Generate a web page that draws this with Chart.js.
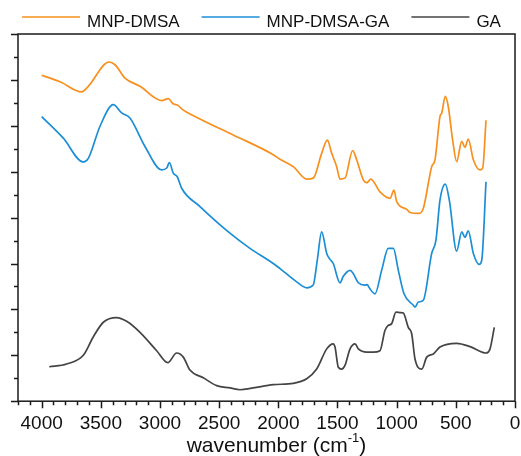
<!DOCTYPE html>
<html>
<head>
<meta charset="utf-8">
<script src="https://cdn.jsdelivr.net/npm/chart.js@4.4.1/dist/chart.umd.min.js"></script>
<style>
  html, body { margin: 0; padding: 0; background: #fff; }
  #wrap { width: 521px; height: 456px; }
</style>
</head>
<body>
<div id="wrap"><canvas id="ftirChart"></canvas></div>
<script>
// FTIR spectra: wavenumber (cm-1) and offset transmittance for each sample
const dmsaWave = [4000, 3845, 3662, 3606, 3431, 3380, 3296, 3169, 2986, 2930, 2888, 2845, 2817, 2662, 2381, 2043, 1986, 1874, 1760, 1705, 1634, 1586, 1549, 1507, 1479, 1437, 1372, 1338, 1282, 1253, 1219, 1141, 1056, 1023, 1000, 915, 887, 817, 775, 704, 676, 634, 619, 589, 564, 527, 493, 450, 423, 395, 352, 296, 273, 245];
const dmsaVal = [7.10, 6.96, 6.74, 6.86, 7.39, 7.33, 7.04, 6.86, 6.55, 6.59, 6.48, 6.44, 6.37, 6.15, 5.80, 5.37, 5.27, 5.11, 4.84, 4.86, 5.40, 5.69, 5.40, 5.11, 4.84, 4.86, 5.46, 5.26, 4.82, 4.76, 4.84, 4.56, 4.42, 4.60, 4.35, 4.18, 4.11, 4.09, 4.20, 5.11, 5.26, 6.20, 6.28, 6.64, 6.42, 5.69, 5.22, 5.66, 5.53, 5.71, 5.26, 5.04, 5.08, 6.12];

const dmsaGaWave = [4000, 3817, 3648, 3606, 3507, 3395, 3324, 3254, 3127, 2986, 2943, 2921, 2888, 2854, 2817, 2662, 2409, 2240, 2043, 1986, 1845, 1760, 1705, 1671, 1634, 1591, 1563, 1536, 1479, 1451, 1394, 1367, 1324, 1268, 1248, 1234, 1183, 1127, 1071, 1028, 986, 938, 859, 845, 817, 775, 704, 668, 634, 589, 555, 493, 450, 423, 395, 352, 302, 281, 245];
const dmsaGaVal = [6.20, 5.73, 5.21, 5.29, 5.99, 6.46, 6.28, 6.17, 5.55, 5.04, 5.08, 5.20, 4.97, 4.89, 4.64, 4.24, 3.66, 3.33, 3.00, 2.89, 2.60, 2.47, 2.53, 3.07, 3.69, 3.22, 3.09, 3.00, 2.58, 2.72, 2.85, 2.78, 2.58, 2.53, 2.54, 2.48, 2.34, 2.85, 3.33, 3.33, 2.85, 2.34, 2.09, 2.05, 2.16, 2.20, 3.22, 3.51, 4.38, 4.73, 4.38, 3.27, 3.69, 3.57, 3.71, 3.22, 2.98, 3.07, 4.78];

const gaWave = [3936, 3789, 3648, 3564, 3479, 3366, 3282, 3169, 3028, 2935, 2859, 2803, 2747, 2634, 2521, 2409, 2324, 2212, 2043, 1874, 1760, 1676, 1591, 1536, 1521, 1493, 1465, 1437, 1394, 1352, 1324, 1253, 1198, 1141, 1099, 1071, 1042, 1006, 966, 944, 902, 873, 845, 788, 746, 690, 634, 493, 380, 245, 211, 175];
const gaVal = [0.75, 0.81, 1.00, 1.40, 1.72, 1.82, 1.74, 1.50, 1.10, 0.84, 1.05, 0.96, 0.68, 0.51, 0.34, 0.29, 0.25, 0.29, 0.36, 0.39, 0.49, 0.70, 1.14, 1.25, 1.18, 0.74, 0.70, 0.78, 1.14, 1.25, 1.14, 1.07, 1.07, 1.10, 1.54, 1.65, 1.69, 1.94, 1.93, 1.92, 1.61, 1.47, 0.92, 0.70, 0.96, 1.03, 1.18, 1.26, 1.19, 1.05, 1.14, 1.61];

const seriesNames = ['MNP-DMSA', 'MNP-DMSA-GA', 'GA'];
const seriesColors = ['#f7901e', '#1c8ed6', '#444444'];

// axis ticks
const xTickValues = [0, 500, 1000, 1500, 2000, 2500, 3000, 3500, 4000];
const xMinorStep = 100;
const yMinorStep = 0.5;

const toPoints = (xs, ys) => xs.map((v, i) => ({ x: v, y: ys[i] }));

// frame, outward ticks, legend and axis title
const spectrumDecor = {
    id: 'spectrumDecor',
    afterDraw(chart) {
        const { ctx, chartArea: a, scales: { x, y } } = chart;
        ctx.save();
        ctx.strokeStyle = '#1a1a1a';
        ctx.lineWidth = 1.5;
        ctx.strokeRect(a.left, a.top, a.right - a.left, a.bottom - a.top);

        ctx.beginPath();
        for (let v = x.min; v <= x.max; v += xMinorStep) {
            const px = Math.round(x.getPixelForValue(v)) + 0.5;
            const len = v % 500 === 0 ? 7 : 4;
            ctx.moveTo(px, a.bottom);
            ctx.lineTo(px, a.bottom + len);
        }
        for (let v = y.min; v <= y.max + 1e-9; v += yMinorStep) {
            const py = Math.round(y.getPixelForValue(v)) + 0.5;
            const len = Math.abs(v - Math.round(v)) < 1e-9 ? 7 : 4;
            ctx.moveTo(a.left, py);
            ctx.lineTo(a.left - len, py);
        }
        ctx.stroke();

        // legend: line sample + name
        ctx.font = '17px "Liberation Sans", Arial, sans-serif';
        ctx.textBaseline = 'alphabetic';
        const sample = 58, gapText = 7, gapItem = 22;
        const widths = seriesNames.map(n => sample + gapText + ctx.measureText(n).width);
        const total = widths.reduce((s, w) => s + w, 0) + gapItem * (widths.length - 1);
        let cx = chart.width / 2 - total / 2 + 1;
        seriesNames.forEach((name, i) => {
            ctx.strokeStyle = seriesColors[i];
            ctx.lineWidth = 1.7;
            ctx.beginPath();
            ctx.moveTo(cx, 17);
            ctx.lineTo(cx + sample, 17);
            ctx.stroke();
            ctx.fillStyle = '#111';
            ctx.fillText(name, cx + sample + gapText, 27);
            cx += widths[i] + gapItem;
        });

        // x axis title with superscript
        const main = 'wavenumber (cm', sup = '-1', tail = ')';
        const bigFont = '21px "Liberation Sans", Arial, sans-serif';
        const smallFont = '13px "Liberation Sans", Arial, sans-serif';
        ctx.font = bigFont;
        const wMain = ctx.measureText(main).width, wTail = ctx.measureText(tail).width;
        ctx.font = smallFont;
        const wSup = ctx.measureText(sup).width;
        let tx = (a.left + a.right) / 2 + 10 - (wMain + wSup + wTail) / 2;
        const base = 452;
        ctx.fillStyle = '#111';
        ctx.font = bigFont;
        ctx.fillText(main, tx, base);
        tx += wMain;
        ctx.font = smallFont;
        ctx.fillText(sup, tx, base - 10);
        tx += wSup;
        ctx.font = bigFont;
        ctx.fillText(tail, tx, base);
        ctx.restore();
    }
};

const waves = [dmsaWave, dmsaGaWave, gaWave];
const vals = [dmsaVal, dmsaGaVal, gaVal];

new Chart(document.getElementById('ftirChart'), {
    type: 'line',
    data: {
        datasets: seriesNames.map((name, i) => ({
            label: name,
            data: toPoints(waves[i], vals[i]),
            borderColor: seriesColors[i],
            borderWidth: 1.7,
            pointRadius: 0,
            fill: false,
            cubicInterpolationMode: 'monotone'
        }))
    },
    options: {
        responsive: true,
        maintainAspectRatio: false,
        animation: false,
        layout: { padding: { left: 18, right: 6, top: 34, bottom: 10 } },
        scales: {
            x: {
                type: 'linear',
                reverse: true,
                min: 0,
                max: 4200,
                border: { display: false },
                grid: { display: false, drawTicks: false },
                afterBuildTicks: axis => { axis.ticks = xTickValues.map(v => ({ value: v })); },
                ticks: {
                    padding: 11,
                    maxRotation: 0,
                    autoSkip: false,
                    color: '#111',
                    font: { family: '"Liberation Sans", Arial, sans-serif', size: 19 },
                    callback: v => String(v)
                }
            },
            y: {
                display: false,
                min: 0,
                max: 8
            }
        },
        plugins: {
            legend: { display: false },
            tooltip: { enabled: false }
        }
    },
    plugins: [spectrumDecor]
});
</script>
</body>
</html>
